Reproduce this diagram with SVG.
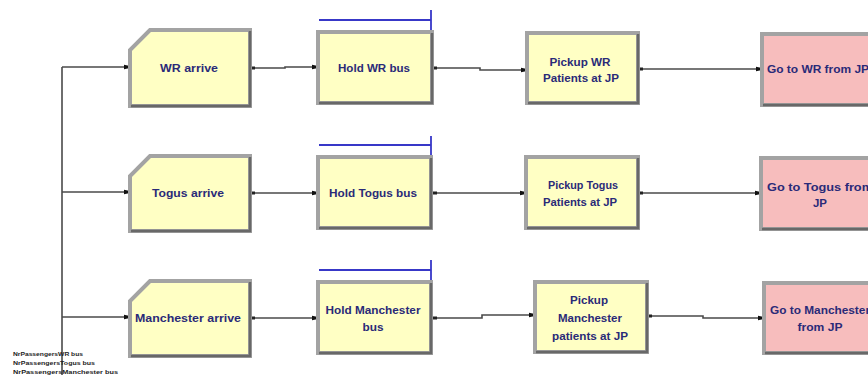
<svg xmlns="http://www.w3.org/2000/svg" width="868" height="375" viewBox="0 0 868 375">
<style>
.y{fill:#ffffc4}
.p{fill:#f7bdbd}
.ol{fill:none;stroke:#a3a3a3;stroke-width:4}
.sh{fill:none;stroke:#686868;stroke-width:2.5}
.t{font-family:"Liberation Sans",Arial,sans-serif;font-size:11px;fill:#2a2a78;text-anchor:middle;font-weight:bold}
.c{fill:none;stroke:#4a4a4a;stroke-width:1.6}
.r{fill:none;stroke:#3838c8;stroke-width:1.8}
.s{font-family:"Liberation Sans",Arial,sans-serif;font-size:5.5px;fill:#222;font-weight:bold}
</style>
<defs>
<marker id="a" viewBox="0 0 6 6" refX="6" refY="3" markerWidth="6" markerHeight="6" markerUnits="userSpaceOnUse" orient="auto">
<path d="M0,0.8 L6,2 L6,4 L0,5.2 Z" fill="#111"/>
</marker>
<marker id="d" viewBox="0 0 4 4" refX="0" refY="2" markerWidth="4" markerHeight="4" markerUnits="userSpaceOnUse" orient="auto">
<rect x="0" y="0.5" width="4" height="3" fill="#222"/>
</marker>
</defs>
<rect width="868" height="375" fill="#fff"/>

<g id="connectors">
<path class="c" d="M62,375 L62,67"/>
<path class="c" d="M62,67 L130,67" marker-end="url(#a)"/>
<path class="c" d="M62,192 L130,192" marker-end="url(#a)"/>
<path class="c" d="M62,317 L130,317" marker-end="url(#a)"/>
<path class="c" d="M251,68 L285,68 L285,67 L318,67" marker-start="url(#d)" marker-end="url(#a)"/>
<path class="c" d="M251,193 L318,193" marker-start="url(#d)" marker-end="url(#a)"/>
<path class="c" d="M251,318 L318,318" marker-start="url(#d)" marker-end="url(#a)"/>
<path class="c" d="M433,68 L480,68 L480,70 L527,70" marker-start="url(#d)" marker-end="url(#a)"/>
<path class="c" d="M433,193 L526,193" marker-start="url(#d)" marker-end="url(#a)"/>
<path class="c" d="M433,318 L482,318 L482,315 L535,315" marker-start="url(#d)" marker-end="url(#a)"/>
<path class="c" d="M639,69 L762,69" marker-start="url(#d)" marker-end="url(#a)"/>
<path class="c" d="M639,193 L761,193" marker-start="url(#d)" marker-end="url(#a)"/>
<path class="c" d="M648,316 L703,316 L703,318 L764,318" marker-start="url(#d)" marker-end="url(#a)"/>
</g>

<g id="wr-arrive">
<path class="y" d="M150,30 L250,30 L250,106 L130,106 L130,50 Z"/>
<path class="ol" d="M150,30 L250,30 L250,106 L130,106 L130,50 Z"/>
<path class="sh" d="M250,31 L250,106 L131,106"/>
<text class="t" x="189" y="72" textLength="58" lengthAdjust="spacingAndGlyphs">WR arrive</text>
</g>
<g id="togus-arrive">
<path class="y" d="M150,156 L250,156 L250,231 L130,231 L130,176 Z"/>
<path class="ol" d="M150,156 L250,156 L250,231 L130,231 L130,176 Z"/>
<path class="sh" d="M250,157 L250,231 L131,231"/>
<text class="t" x="188" y="197" textLength="72" lengthAdjust="spacingAndGlyphs">Togus arrive</text>
</g>
<g id="manchester-arrive">
<path class="y" d="M150,281 L250,281 L250,356 L130,356 L130,301 Z"/>
<path class="ol" d="M150,281 L250,281 L250,356 L130,356 L130,301 Z"/>
<path class="sh" d="M250,282 L250,356 L131,356"/>
<text class="t" x="188" y="322" textLength="106" lengthAdjust="spacingAndGlyphs">Manchester arrive</text>
</g>

<g id="hold-wr">
<path class="r" d="M319,20 L431,20 M431,10 L431,30"/>
<rect class="y" x="318" y="32" width="114" height="71"/>
<rect class="ol" x="318" y="32" width="114" height="71"/>
<path class="sh" d="M432,33 L432,103 L319,103"/>
<text class="t" x="374" y="72" textLength="72" lengthAdjust="spacingAndGlyphs">Hold WR bus</text>
</g>
<g id="hold-togus">
<path class="r" d="M319,145 L431,145 M431,136 L431,155"/>
<rect class="y" x="318" y="157" width="113" height="71"/>
<rect class="ol" x="318" y="157" width="113" height="71"/>
<path class="sh" d="M431,158 L431,228 L319,228"/>
<text class="t" x="373" y="197" textLength="88" lengthAdjust="spacingAndGlyphs">Hold Togus bus</text>
</g>
<g id="hold-manchester">
<path class="r" d="M319,270 L431,270 M431,260 L431,280"/>
<rect class="y" x="318" y="282" width="113" height="71"/>
<rect class="ol" x="318" y="282" width="113" height="71"/>
<path class="sh" d="M431,283 L431,353 L319,353"/>
<text class="t" x="373" y="314" textLength="95" lengthAdjust="spacingAndGlyphs">Hold Manchester</text>
<text class="t" x="373" y="331" textLength="21" lengthAdjust="spacingAndGlyphs">bus</text>
</g>

<g id="pickup-wr">
<rect class="y" x="527" y="33" width="111" height="70"/>
<rect class="ol" x="527" y="33" width="111" height="70"/>
<path class="sh" d="M638,34 L638,103 L528,103"/>
<text class="t" x="580" y="66" textLength="61" lengthAdjust="spacingAndGlyphs">Pickup WR</text>
<text class="t" x="581" y="82" textLength="76" lengthAdjust="spacingAndGlyphs">Patients at JP</text>
</g>
<g id="pickup-togus">
<rect class="y" x="526" y="157" width="112" height="71"/>
<rect class="ol" x="526" y="157" width="112" height="71"/>
<path class="sh" d="M638,158 L638,228 L527,228"/>
<text class="t" x="583" y="189" textLength="70" lengthAdjust="spacingAndGlyphs">Pickup Togus</text>
<text class="t" x="580" y="206" textLength="74" lengthAdjust="spacingAndGlyphs">Patients at JP</text>
</g>
<g id="pickup-manchester">
<rect class="y" x="535" y="282" width="112" height="70"/>
<rect class="ol" x="535" y="282" width="112" height="70"/>
<path class="sh" d="M647,283 L647,352 L536,352"/>
<text class="t" x="589" y="304" textLength="38" lengthAdjust="spacingAndGlyphs">Pickup</text>
<text class="t" x="590" y="322" textLength="64" lengthAdjust="spacingAndGlyphs">Manchester</text>
<text class="t" x="590" y="340" textLength="76" lengthAdjust="spacingAndGlyphs">patients at JP</text>
</g>

<g id="goto-wr">
<rect class="p" x="762" y="34" width="114" height="71"/>
<rect class="ol" x="762" y="34" width="114" height="71"/>
<path class="sh" d="M876,35 L876,105 L763,105"/>
<text class="t" x="818" y="73" textLength="102" lengthAdjust="spacingAndGlyphs">Go to WR from JP</text>
</g>
<g id="goto-togus">
<rect class="p" x="761" y="158" width="116" height="71"/>
<rect class="ol" x="761" y="158" width="116" height="71"/>
<path class="sh" d="M877,159 L877,229 L762,229"/>
<text class="t" x="820" y="191" textLength="106" lengthAdjust="spacingAndGlyphs">Go to Togus from</text>
<text class="t" x="820" y="207" textLength="14" lengthAdjust="spacingAndGlyphs">JP</text>
</g>
<g id="goto-manchester">
<rect class="p" x="764" y="283" width="114" height="70"/>
<rect class="ol" x="764" y="283" width="114" height="70"/>
<path class="sh" d="M878,284 L878,353 L765,353"/>
<text class="t" x="820" y="314" textLength="100" lengthAdjust="spacingAndGlyphs">Go to Manchester</text>
<text class="t" x="820" y="331" textLength="45" lengthAdjust="spacingAndGlyphs">from JP</text>
</g>

<g id="variables">
<text class="s" x="13" y="356" textLength="70" lengthAdjust="spacingAndGlyphs">NrPassengersWR bus</text>
<text class="s" x="13" y="365" textLength="82" lengthAdjust="spacingAndGlyphs">NrPassengersTogus bus</text>
<text class="s" x="13" y="374" textLength="105" lengthAdjust="spacingAndGlyphs">NrPassengersManchester bus</text>
</g>
</svg>
